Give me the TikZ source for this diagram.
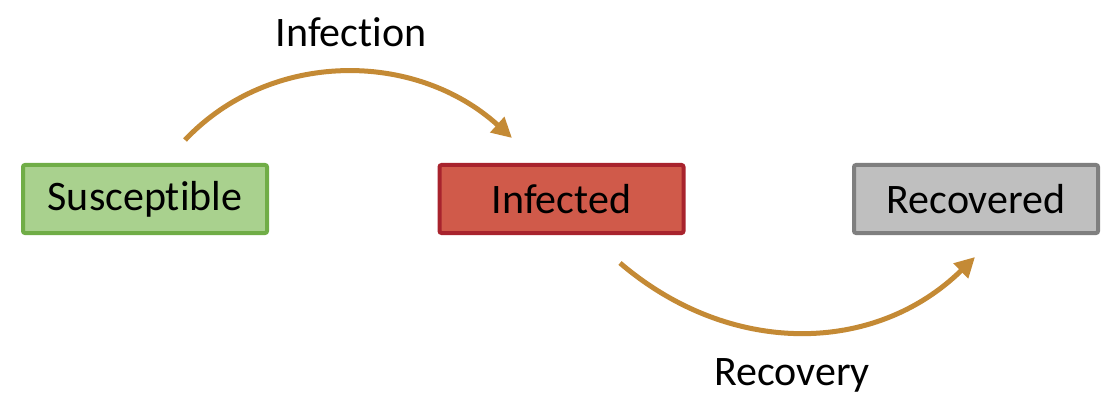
\documentclass[tikz,border=0pt]{standalone}
\usepackage{fontspec}
\setmainfont{Carlito}[Ligatures={NoCommon}]
\usetikzlibrary{arrows.meta}
\definecolor{arc}{HTML}{C48A35}
\definecolor{gfill}{HTML}{A9D18E}
\definecolor{gline}{HTML}{70AD47}
\definecolor{rfill}{HTML}{D05A4A}
\definecolor{rline}{HTML}{A8232D}
\definecolor{kfill}{HTML}{BFBFBF}
\definecolor{kline}{HTML}{7F7F7F}
\tikzset{
  statebox/.style={draw, line width=4pt, rounded corners=2pt, minimum width=244pt, minimum height=68pt, inner sep=0pt, font=\fontsize{42}{50}\selectfont},
  flow/.style={draw=arc, line width=5pt, -{Triangle[length=20pt,width=20pt]}},
  lbl/.style={font=\fontsize{42}{50}\selectfont, inner sep=0pt}
}
\begin{document}
\begin{tikzpicture}[x=1pt,y=-1pt]
\useasboundingbox (0,0) rectangle (1118,406);
\node[statebox, fill=gfill, draw=gline] (S) at (145,199) {Susceptible};
\node[statebox, fill=rfill, draw=rline] (I) at (561.5,199) {Infected};
\node[statebox, fill=kfill, draw=kline] (R) at (976,199) {Recovered};
\coordinate (s1) at (185,140);
\coordinate (i1) at (512,138);
\coordinate (i2) at (620,263);
\coordinate (r1) at (975,257);
\draw[flow] (s1) .. controls (270,50) and (415,50) .. (i1);
\draw[flow] (i2) .. controls (730,357) and (875,355) .. (r1);
\node[lbl] (tinf) at (351,32) {Infection};
\node[lbl] (trec) at (792,375) {Recovery};
\end{tikzpicture}
\end{document}
